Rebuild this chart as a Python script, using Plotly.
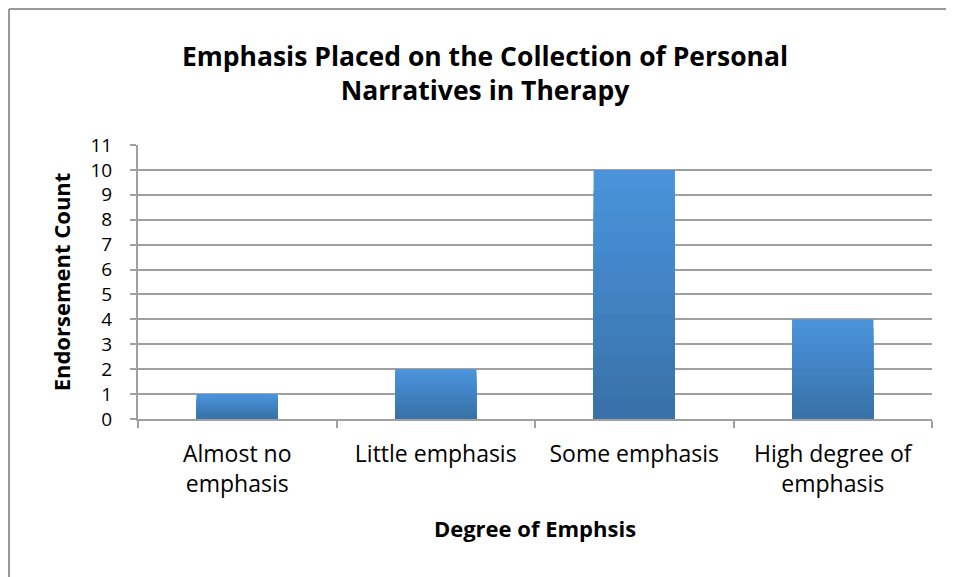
import plotly.graph_objects as go

categories = ["Almost no<br>emphasis", "Little emphasis", "Some emphasis", "High degree of<br>emphasis"]
counts = [1, 2, 10, 4]
y_ticks = list(range(0, 12))

# stepped shades to mimic the Excel bar gradient (light top -> darker bottom)
shades = ["#4A92DA", "#4890D6", "#478DD2", "#458ACE", "#4387CA", "#4284C5",
          "#4081C0", "#3E7EBB", "#3D7BB6", "#3B78B1", "#3A75AC", "#3872A8"]

W, H = 954, 577
# page body adds ~8px offset, margins compensate for that
ML, MR, MT, MB = 130, 30, 137, 166
PW, PH = W - ML - MR, H - MT - MB

fig = go.Figure()
n = len(shades)
for i, c in enumerate(shades):
    frac = 1 - i / n
    fig.add_trace(go.Bar(
        x=categories,
        y=[v * frac for v in counts],
        marker=dict(color=c, line=dict(width=0)),
        showlegend=False,
        hoverinfo="skip" if i else "x+y",
    ))

font = "'Open Sans', sans-serif"

fig.update_layout(
    width=W, height=H,
    barmode="overlay",
    bargap=0.59,
    plot_bgcolor="white",
    paper_bgcolor="white",
    margin=dict(l=ML, r=MR, t=MT, b=MB),
    font=dict(family=font, color="black"),
    title=dict(
        text="<b>Emphasis Placed on the Collection of Personal<br>Narratives in Therapy</b>",
        x=0.5, xref="container", xanchor="center",
        y=1 - 58 / H, yref="container", yanchor="middle",
        font=dict(size=26.5, family=font),
    ),
    xaxis=dict(
        showline=True, linecolor="#A0A0A0", linewidth=2,
        ticks="outside", tickson="boundaries", ticklen=7, tickcolor="#A0A0A0", tickwidth=2,
        tickfont=dict(size=23), showgrid=False, ticklabelstandoff=13,
        title=dict(text="<b>Degree of Emphsis</b>", font=dict(size=22), standoff=24),
    ),
    yaxis=dict(
        range=[0, 11], tickvals=y_ticks, showline=True, linecolor="#A0A0A0", linewidth=2,
        ticks="outside", ticklen=6, tickcolor="#A0A0A0", tickwidth=2,
        gridcolor="#A0A0A0", gridwidth=2, zeroline=False,
        tickfont=dict(size=19), ticklabelstandoff=14,
        title=dict(text="<b>Endorsement Count</b>", font=dict(size=22), standoff=14),
    ),
)

# chart outer border (only top and left visible)
bx = (1 - ML) / PW
by = (H - MB - 1) / PH
fig.add_shape(type="line", xref="paper", yref="paper",
              x0=bx, x1=(W - ML) / PW, y0=by, y1=by,
              line=dict(color="#999999", width=2))
fig.add_shape(type="line", xref="paper", yref="paper",
              x0=bx, x1=bx, y0=by, y1=-MB / PH,
              line=dict(color="#999999", width=2))

fig.write_html("out.html")
